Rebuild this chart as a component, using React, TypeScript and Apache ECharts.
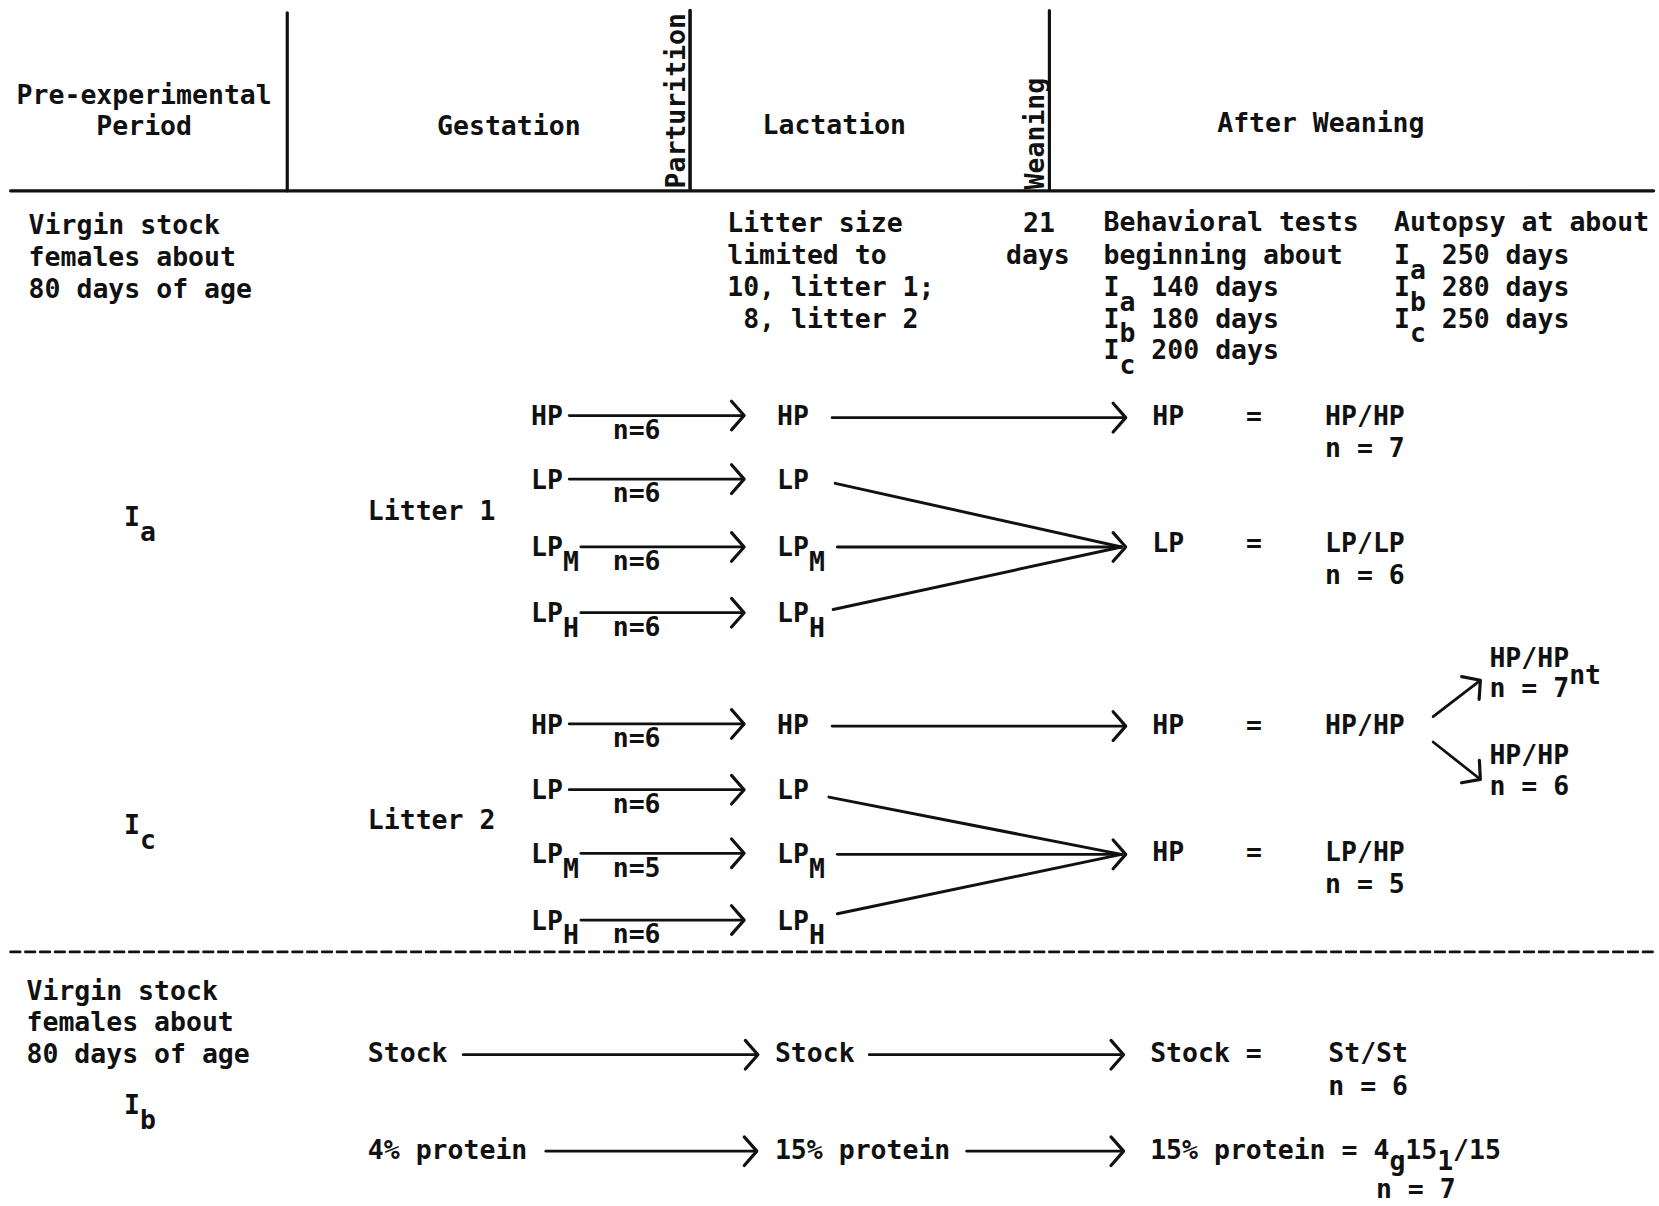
import React, { useEffect, useRef } from "react";
import * as echarts from "echarts";

// ---------- content ----------
const headerPhases = ["Pre-experimental", "Period", "Gestation", "Lactation", "After Weaning"];
const eventMarkers = ["Parturition", "Weaning"];
const originLines = ["Virgin stock", "females about", "80 days of age"];
const litterLimitLines = ["Litter size", "limited to", "10, litter 1;", " 8, litter 2"];
const weaningAge = ["21", "days"];
const behavTitle = ["Behavioral tests", "beginning about"];
const autopsyTitle = "Autopsy at about";
const groupSubs = ["a", "b", "c"];
const behavTestDays = [140, 180, 200];
const autopsyDays = [250, 280, 250];
const litterNames = ["Litter 1", "Litter 2"];
const dietBase = ["HP", "LP", "LP", "LP"];
const dietSub = ["", "", "M", "H"];
const litter1N = [6, 6, 6, 6];
const litter2N = [6, 6, 5, 6];
const litter1Outcome = [
  { diet: "HP", code: "HP/HP", n: "7" },
  { diet: "LP", code: "LP/LP", n: "6" },
];
const litter2Outcome = [
  { diet: "HP", code: "HP/HP", n: "" },
  { diet: "HP", code: "LP/HP", n: "5" },
];
const splitOutcome = [
  { code: "HP/HP", n: "7", sup: "nt" },
  { code: "HP/HP", n: "6", sup: "" },
];
const stockChain = ["Stock", "Stock", "Stock ="];
const stockResult = { code: "St/St", n: "6" };
const proteinChain = ["4% protein", "15% protein", "15% protein = 4 15 /15"];
const proteinSubs = [
  { col: 15, ch: "g" },
  { col: 18, ch: "1" },
];
const proteinN = "7";

// ---------- drawing helpers ----------
const FONT = '"DejaVu Sans Mono", "Liberation Mono", monospace';
const FS = 25;
const CW = FS * 0.602;
const INK = "#111";
const K = 1659 / 1565;
const SUB = 14;

function txt(x: number, y: number, text: string, opts: any = {}) {
  return {
    type: "text",
    x,
    y,
    rotation: opts.rotation || 0,
    style: {
      text,
      fontFamily: FONT,
      fontSize: FS,
      fontWeight: "bold",
      fill: INK,
      textAlign: opts.align || "left",
      textVerticalAlign: "middle",
    },
  };
}

function typed(x: number, y: number, main: string, subs: { col: number; ch: string; dy: number }[] = []) {
  const els: any[] = [txt(x, y, main)];
  subs.forEach((s) => els.push(txt(x + s.col * CW, y + s.dy, s.ch)));
  return els;
}

function seg(x1: number, y1: number, x2: number, y2: number, w = 2.6, dash?: number[]) {
  return {
    type: "line",
    shape: { x1, y1, x2, y2 },
    style: { stroke: INK, lineWidth: w, lineCap: "round", lineDash: dash || null },
  };
}

function head(tx: number, ty: number, ang: number, L = 18, spread = 0.85) {
  const a1 = ang + Math.PI - spread;
  const a2 = ang + Math.PI + spread;
  return {
    type: "polyline",
    shape: {
      points: [
        [tx + L * Math.cos(a1), ty + L * Math.sin(a1)],
        [tx, ty],
        [tx + L * Math.cos(a2), ty + L * Math.sin(a2)],
      ],
    },
    style: { stroke: INK, lineWidth: 3, fill: null, lineJoin: "round", lineCap: "round" },
  };
}

function arrow(x1: number, y1: number, x2: number, y2: number) {
  const ang = Math.atan2(y2 - y1, x2 - x1);
  return [seg(x1, y1, x2, y2), head(x2 + 2 * Math.cos(ang), y2 + 2 * Math.sin(ang), ang)];
}

function buildElements() {
  const els: any[] = [];

  // ----- header -----
  els.push(txt(136, 89, headerPhases[0], { align: "center" }));
  els.push(txt(136, 118, headerPhases[1], { align: "center" }));
  els.push(txt(480, 118, headerPhases[2], { align: "center" }));
  els.push(txt(787, 117, headerPhases[3], { align: "center" }));
  els.push(txt(1246, 116, headerPhases[4], { align: "center" }));
  els.push(txt(637, 95, eventMarkers[0], { align: "center", rotation: Math.PI / 2 }));
  els.push(txt(976, 126, eventMarkers[1], { align: "center", rotation: Math.PI / 2 }));
  els.push(seg(271, 12, 271, 180, 3));
  els.push(seg(651, 10, 651, 178, 3.4));
  els.push(seg(990, 10, 990, 178, 3));
  els.push(seg(10, 180, 1560, 180, 3));

  // ----- description row -----
  originLines.forEach((t, i) => els.push(txt(27, 212 + i * 30, t)));
  litterLimitLines.forEach((t, i) => els.push(txt(686, 210 + i * 30, t)));
  els.push(txt(965, 210, weaningAge[0]));
  els.push(txt(949, 240, weaningAge[1]));
  els.push(txt(1041, 209, behavTitle[0]));
  els.push(txt(1041, 240, behavTitle[1]));
  behavTestDays.forEach((d, i) =>
    els.push(...typed(1041, 270 + i * 30, "I  " + d + " days", [{ col: 1, ch: groupSubs[i], dy: SUB }]))
  );
  els.push(txt(1315, 209, autopsyTitle));
  autopsyDays.forEach((d, i) =>
    els.push(...typed(1315, 240 + i * 30, "I  " + d + " days", [{ col: 1, ch: groupSubs[i], dy: SUB }]))
  );

  // ----- litter blocks -----
  const blocks = [
    {
      grp: groupSubs[0], gy: 487, ly: 482, name: litterNames[0], rows: [392, 452, 516, 578], ns: litter1N,
      starts: [[785, 394], [788, 456], [790, 516], [786, 575]], conv: 516, out: litter1Outcome, outY: [392, 512],
    },
    {
      grp: groupSubs[2], gy: 778, ly: 773, name: litterNames[1], rows: [683, 745, 805, 868], ns: litter2N,
      starts: [[785, 685], [782, 752], [790, 806], [790, 862]], conv: 806, out: litter2Outcome, outY: [683, 803],
    },
  ];
  blocks.forEach((b) => {
    els.push(...typed(117, b.gy, "I", [{ col: 1, ch: b.grp, dy: SUB }]));
    els.push(txt(347, b.ly, b.name));
    b.rows.forEach((y, i) => {
      const sub = dietSub[i];
      const subs = sub ? [{ col: 2, ch: sub, dy: SUB }] : [];
      els.push(...typed(501, y, dietBase[i], subs));
      els.push(...arrow(sub ? 548 : 537, y, 700, y));
      els.push(txt(578, y + 13, "n=" + b.ns[i]));
      els.push(...typed(733, y, dietBase[i], subs));
    });
    // long lines to after-weaning diet
    const [hx, hy] = b.starts[0];
    els.push(...arrow(hx, hy, 1060, hy));
    for (let i = 1; i < 4; i++) {
      const [sx, sy] = b.starts[i];
      els.push(seg(sx, sy, 1058, b.conv, 2.8));
    }
    els.push(head(1062, b.conv, 0));
    b.out.forEach((o, j) => {
      const y = b.outY[j];
      els.push(txt(1087, y, o.diet));
      els.push(txt(1183, y, "=", { align: "center" }));
      els.push(txt(1250, y, o.code));
      if (o.n) els.push(txt(1250, y + 30, "n = " + o.n));
    });
  });

  // split of the HP/HP litter-2 group
  els.push(...arrow(1352, 676, 1395, 643));
  els.push(...arrow(1352, 700, 1395, 734));
  splitOutcome.forEach((s, i) => {
    const y = i === 0 ? 620 : 712;
    els.push(txt(1405, y, s.code));
    els.push(txt(1405, y + 29, "n = " + s.n));
    if (s.sup) els.push(txt(1405 + 5 * CW, y + 29 - 13, s.sup));
  });

  // dashed separator
  els.push(seg(10, 898, 1560, 898, 2.6, [9, 5]));

  // ----- stock block -----
  originLines.forEach((t, i) => els.push(txt(25, 934 + i * 30, t)));
  els.push(...typed(117, 1042, "I", [{ col: 1, ch: groupSubs[1], dy: SUB }]));

  els.push(txt(347, 993, stockChain[0]));
  els.push(...arrow(437, 995, 713, 995));
  els.push(txt(731, 993, stockChain[1]));
  els.push(...arrow(820, 995, 1058, 995));
  els.push(txt(1085, 993, stockChain[2]));
  els.push(txt(1253, 993, stockResult.code));
  els.push(txt(1253, 1024, "n = " + stockResult.n));

  els.push(txt(347, 1084, proteinChain[0]));
  els.push(...arrow(515, 1086, 712, 1086));
  els.push(txt(731, 1084, proteinChain[1]));
  els.push(...arrow(912, 1086, 1058, 1086));
  els.push(...typed(1085, 1084, proteinChain[2], proteinSubs.map((s) => ({ ...s, dy: 11 }))));
  els.push(txt(1298, 1121, "n = " + proteinN));

  return els;
}

export default function App() {
  const ref = useRef<HTMLDivElement>(null);
  useEffect(() => {
    if (!ref.current) return;
    const chart = echarts.init(ref.current, null, { renderer: "svg" });
    chart.setOption({
      animation: false,
      backgroundColor: "#fff",
      graphic: {
        elements: [
          {
            type: "group",
            x: 0,
            y: 0,
            scaleX: K,
            scaleY: K,
            children: buildElements(),
          },
        ],
      },
    });
    return () => chart.dispose();
  }, []);
  return (
    <div
      ref={ref}
      style={{ position: "absolute", left: 0, top: 0, width: 1659, height: 1206, background: "#fff" }}
    />
  );
}
